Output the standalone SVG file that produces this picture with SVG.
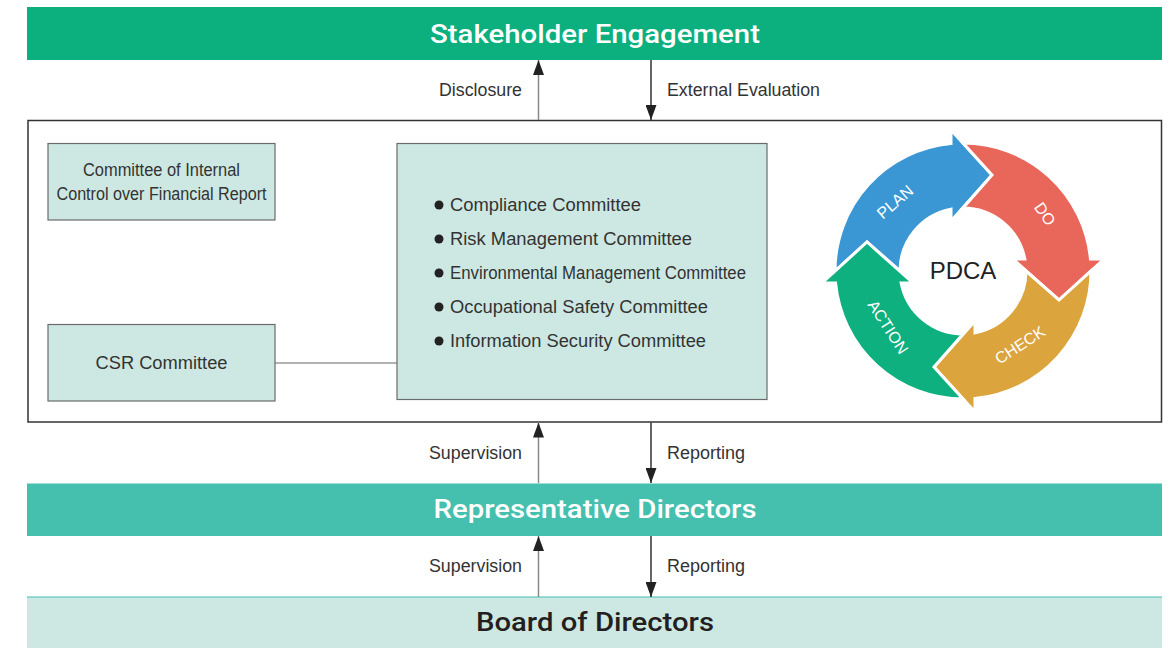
<svg xmlns="http://www.w3.org/2000/svg" width="1170" height="648" viewBox="0 0 1170 648">
<defs>
<style>
.bar-t{font-family:Roboto,"Liberation Sans",Arial,sans-serif;font-size:26px;font-weight:500;fill:#fff;text-anchor:middle}
.lbl{font-family:"Liberation Sans",Arial,sans-serif;font-size:17.5px;fill:#333}
.box{fill:#cde8e2;stroke:#6b6b6b;stroke-width:1.2}
.btxt{font-family:"Liberation Sans",Arial,sans-serif;font-size:17.5px;fill:#333}
.ring{stroke:#fff;stroke-width:3;stroke-linejoin:miter}
.rl{font-family:"Liberation Sans",Arial,sans-serif;font-size:16px;fill:#fff;text-anchor:middle;dominant-baseline:central}
.up{stroke:#888;stroke-width:1.5;fill:none}
.dn{stroke:#333;stroke-width:1.5;fill:none}
</style>
<marker id="ah" markerUnits="userSpaceOnUse" markerWidth="15" markerHeight="11" refX="15" refY="5.5" orient="auto">
<path d="M0,0 L15,5.5 L0,11 Z" fill="#222"/>
</marker>
<path id="seg" d="M -128 0 A 128 128 0 0 1 -12 -127.44 L -12 -141 L 29 -96 L -12 -50 L -12 -61.85 A 63 63 0 0 0 -63 0 L -96 -29 Z"/>
</defs>
<rect width="1170" height="648" fill="#fff"/>

<g id="stakeholder">
<rect x="27" y="7" width="1135" height="53" fill="#0caf7e"/>
<text class="bar-t" x="595" y="43" textLength="330" lengthAdjust="spacingAndGlyphs">Stakeholder Engagement</text>
</g>

<g id="main-frame">
<rect x="28" y="120.5" width="1133.5" height="301.5" fill="#fff" stroke="#333" stroke-width="1.5"/>
</g>

<g id="internal-control">
<rect class="box" x="48" y="143.5" width="227" height="76.5"/>
<text class="btxt" x="161.5" y="176" text-anchor="middle" textLength="157" lengthAdjust="spacingAndGlyphs">Committee of Internal</text>
<text class="btxt" x="161.5" y="200" text-anchor="middle" textLength="210" lengthAdjust="spacingAndGlyphs">Control over Financial Report</text>
</g>

<g id="csr">
<rect class="box" x="48" y="324.5" width="227" height="76.5"/>
<text class="btxt" x="161.5" y="369" text-anchor="middle" textLength="132" lengthAdjust="spacingAndGlyphs">CSR Committee</text>
</g>

<g id="committees">
<rect class="box" x="397" y="143.5" width="370" height="256"/>
<circle cx="439" cy="205" r="4.5" fill="#222"/>
<circle cx="439" cy="239" r="4.5" fill="#222"/>
<circle cx="439" cy="273" r="4.5" fill="#222"/>
<circle cx="439" cy="307" r="4.5" fill="#222"/>
<circle cx="439" cy="341" r="4.5" fill="#222"/>
<text class="btxt" x="450" y="211" textLength="191" lengthAdjust="spacingAndGlyphs">Compliance Committee</text>
<text class="btxt" x="450" y="245" textLength="242" lengthAdjust="spacingAndGlyphs">Risk Management Committee</text>
<text class="btxt" x="450" y="279" textLength="296" lengthAdjust="spacingAndGlyphs">Environmental Management Committee</text>
<text class="btxt" x="450" y="313" textLength="258" lengthAdjust="spacingAndGlyphs">Occupational Safety Committee</text>
<text class="btxt" x="450" y="347" textLength="256" lengthAdjust="spacingAndGlyphs">Information Security Committee</text>
</g>

<g id="pdca" transform="translate(963,271)">
<use href="#seg" class="ring" fill="#3a97d4"/>
<use href="#seg" class="ring" fill="#e8665a" transform="rotate(90)"/>
<use href="#seg" class="ring" fill="#dba43c" transform="rotate(180)"/>
<use href="#seg" class="ring" fill="#0db07e" transform="rotate(270)"/>
<text class="rl" transform="translate(-68,-69) rotate(-41)">PLAN</text>
<text class="rl" transform="translate(82,-57) rotate(55)">DO</text>
<text class="rl" transform="translate(57,74) rotate(-33)">CHECK</text>
<text class="rl" transform="translate(-75,56) rotate(57)">ACTION</text>
<text x="0" y="8" text-anchor="middle" font-family="'Liberation Sans',Arial,sans-serif" font-size="24" fill="#222">PDCA</text>
</g>

<g id="representative">
<rect x="27" y="483.5" width="1135" height="52.5" fill="#45bfae"/>
<text class="bar-t" x="595" y="518" textLength="323" lengthAdjust="spacingAndGlyphs">Representative Directors</text>
</g>

<g id="board">
<rect x="27" y="597" width="1135" height="51" fill="#cde8e2"/>
<line x1="27" y1="597" x2="1162" y2="597" stroke="#45bfae" stroke-width="1.2"/>
<text x="595" y="631" text-anchor="middle" font-family="Roboto,'Liberation Sans',Arial,sans-serif" font-size="25" font-weight="500" fill="#231f20" textLength="238" lengthAdjust="spacingAndGlyphs">Board of Directors</text>
</g>

<g id="connectors">
<line x1="275" y1="363" x2="397" y2="363" stroke="#666" stroke-width="1.2"/>
<line class="up" x1="538.5" y1="120" x2="538.5" y2="60" marker-end="url(#ah)"/>
<line class="dn" x1="651" y1="60" x2="651" y2="120" marker-end="url(#ah)"/>
<line class="up" x1="538.5" y1="483" x2="538.5" y2="422.5" marker-end="url(#ah)"/>
<line class="dn" x1="651" y1="422.5" x2="651" y2="483" marker-end="url(#ah)"/>
<line class="up" x1="538.5" y1="597" x2="538.5" y2="536" marker-end="url(#ah)"/>
<line class="dn" x1="651" y1="536" x2="651" y2="597" marker-end="url(#ah)"/>
<text class="lbl" x="522" y="95.5" text-anchor="end" textLength="83" lengthAdjust="spacingAndGlyphs">Disclosure</text>
<text class="lbl" x="667" y="95.5" textLength="153" lengthAdjust="spacingAndGlyphs">External Evaluation</text>
<text class="lbl" x="522" y="459" text-anchor="end" textLength="93" lengthAdjust="spacingAndGlyphs">Supervision</text>
<text class="lbl" x="667" y="459" textLength="78" lengthAdjust="spacingAndGlyphs">Reporting</text>
<text class="lbl" x="522" y="572" text-anchor="end" textLength="93" lengthAdjust="spacingAndGlyphs">Supervision</text>
<text class="lbl" x="667" y="572" textLength="78" lengthAdjust="spacingAndGlyphs">Reporting</text>
</g>
</svg>
